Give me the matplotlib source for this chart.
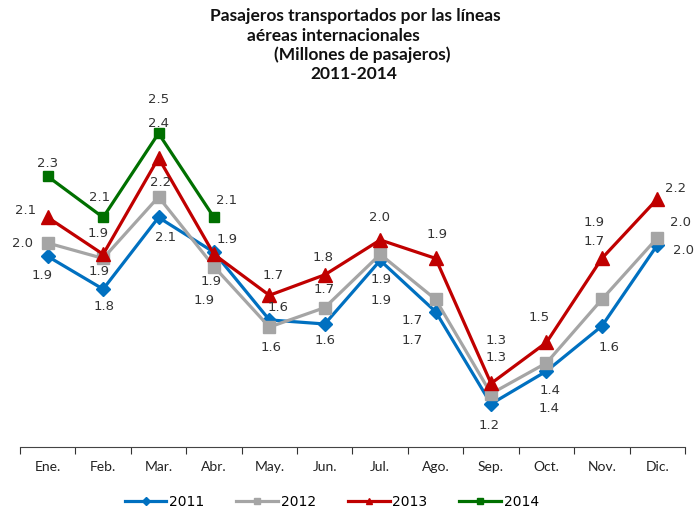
import matplotlib
matplotlib.use("Agg")
import matplotlib.pyplot as plt
from matplotlib.lines import Line2D

meses = ["Ene.", "Feb.", "Mar.", "Abr.", "May.", "Jun.", "Jul.", "Ago.", "Sep.", "Oct.", "Nov.", "Dic."]
v2011 = [1.93, 1.77, 2.12, 1.95, 1.62, 1.60, 1.91, 1.66, 1.21, 1.37, 1.59, 1.985]
v2012 = [1.995, 1.92, 2.22, 1.88, 1.585, 1.68, 1.94, 1.72, 1.26, 1.41, 1.72, 2.02]
v2013 = [2.12, 1.94, 2.41, 1.94, 1.74, 1.84, 2.01, 1.92, 1.31, 1.51, 1.92, 2.21]
v2014 = [2.32, 2.12, 2.53, 2.12]

# desplazamiento de las etiquetas (pixeles)
off2011 = [(-6, -19), (1, -17), (7, -20), (-10, -48), (9, 12), (0, -17), (1, -40), (-23, -29), (-2, -22), (3, -37), (7, -21), (26, -5)]
off2012 = [(-25, 0), (-4, -13), (2, 14), (-3, -15), (2, -20), (-1, 18), (1, -25), (-23, -21), (5, 36), (4, -28), (-8, 58), (23, 15)]
off2013 = [(-22, 7), (-5, 21), (0, 34), (13, 15), (4, 20), (-2, 17), (-1, 22), (1, 24), (5, 43), (-7, 25), (-8, 36), (18, 10)]
off2014 = [(0, 13), (-4, 20), (0, 34), (13, 17)]

series = [
    ("2011", v2011, off2011, "#0070C0", "D", 7),
    ("2012", v2012, off2012, "#A5A5A5", "s", 8.5),
    ("2013", v2013, off2013, "#C00000", "^", 10),
    ("2014", v2014, off2014, "#007000", "s", 6.5),
]

fig = plt.figure(figsize=(6.98, 5.12), dpi=100)
ax = fig.add_axes([20 / 698, 65 / 512, 665 / 698, 357 / 512])
x = list(range(len(meses)))

handles = []
for name, vals, offs, col, mk, ms in series:
    xs = x[:len(vals)]
    ax.plot(xs, vals, color=col, lw=2.3, marker=mk, ms=ms, mec=col, mfc=col, clip_on=False)
    for xi, v, (dx, dy) in zip(xs, vals, offs):
        ax.annotate(f"{v:.1f}", (xi, v), xytext=(dx, dy), textcoords="offset pixels",
                    ha="center", va="center", fontsize=9.5, color="#333333",
                    family="DejaVu Sans")
    handles.append(Line2D([], [], color=col, lw=2.3, marker=mk, ms=4, mec=col, mfc=col))

ax.set_xlim(-0.5, 11.5)
ax.set_ylim(1.0, 1.0 + 357 / 205)
ax.set_xticks([i - 0.5 for i in range(13)], minor=False)
ax.set_xticklabels([])
ax.set_xticks(x, minor=True)
ax.set_xticklabels(meses, minor=True, fontsize=10, family="Lato", color="#222222")
ax.tick_params(axis="x", which="major", length=5, color="#333333", direction="out")
ax.tick_params(axis="x", which="minor", length=0, pad=10)
ax.set_yticks([])
for s in ["left", "right", "top"]:
    ax.spines[s].set_visible(False)
ax.spines["bottom"].set_color("#444444")

ax.legend(handles, ["2011", "2012", "2013", "2014"], loc="center", bbox_to_anchor=(0.469, -0.155),
          ncol=4, frameon=False, handlelength=3.0, handletextpad=0.2, columnspacing=2.3,
          prop={"family": "DejaVu Sans", "size": 10})

titulo = [
    ("Pasajeros transportados por las líneas", 355, 16),
    ("aéreas internacionales", 333, 36),
    ("(Millones de pasajeros)", 362, 55),
    ("2011-2014", 354, 74),
]
for t, px, py in titulo:
    fig.text(px / 698, 1 - py / 512, t, ha="center", va="center", fontsize=12.5,
             fontweight="bold", family="Lato", color="#111111")

fig.savefig("out.png", dpi=100)
